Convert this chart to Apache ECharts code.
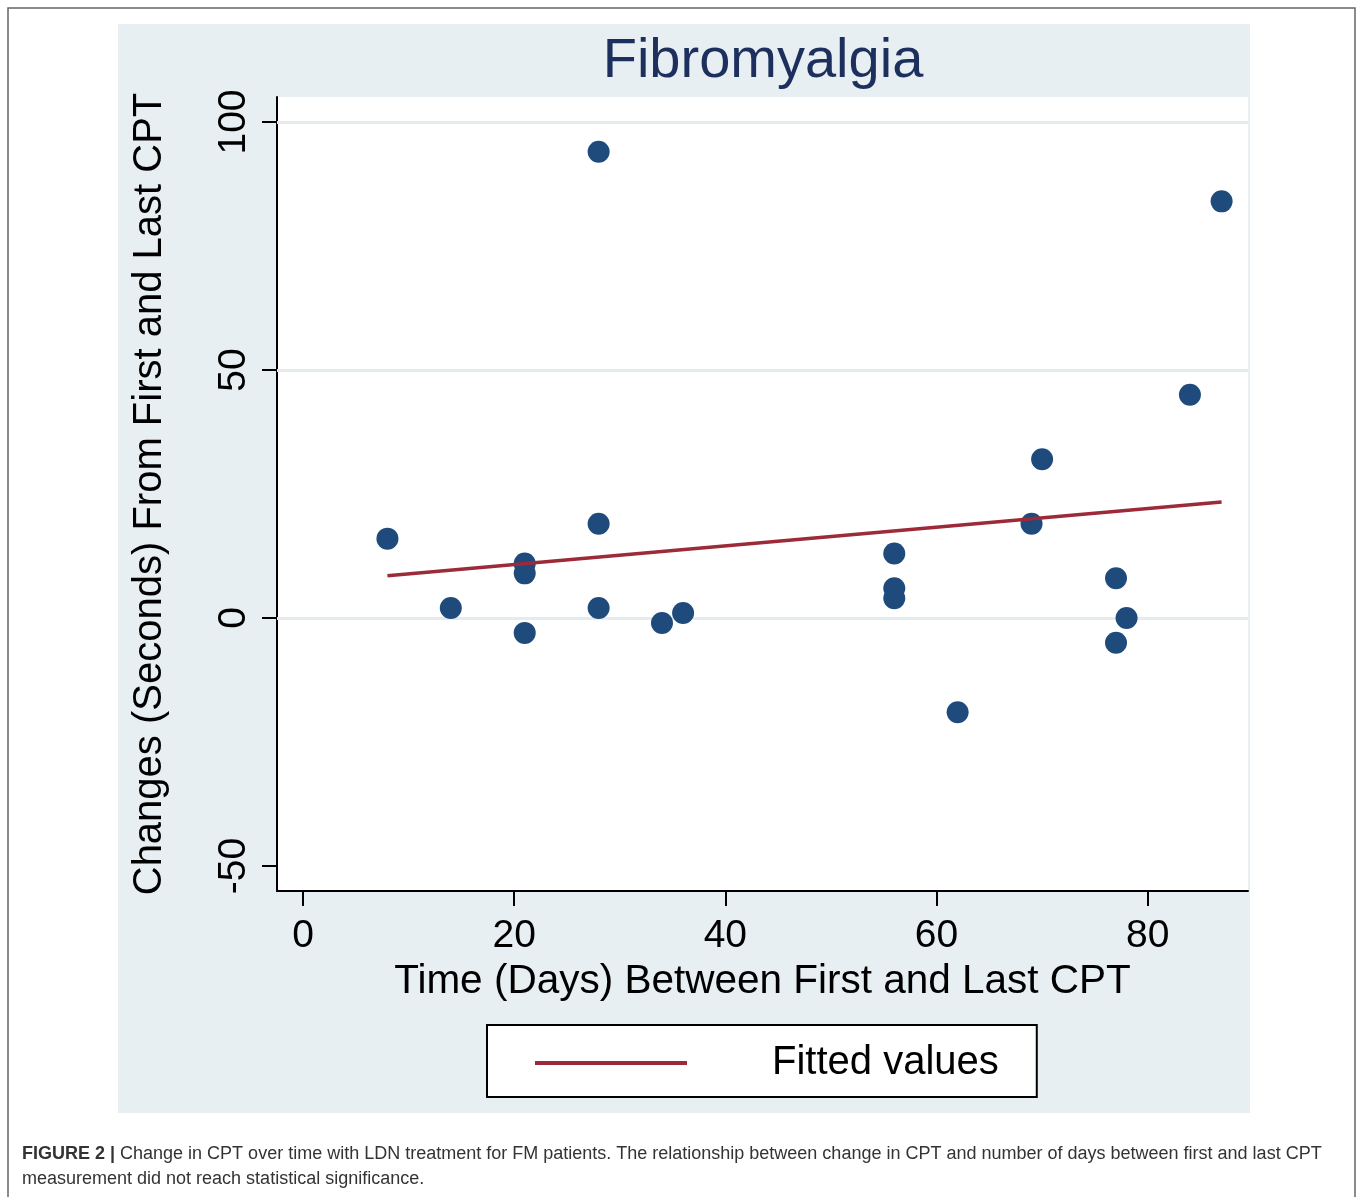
<!DOCTYPE html>
<html>
<head>
<meta charset="UTF-8">
<title>Fibromyalgia</title>
<style>
    html,body{margin:0;padding:0;background:#fff;}
    #chart{width:1358px;height:1197px;}
</style>
</head>
<body>
<div id="chart"></div>
<script src="https://cdn.jsdelivr.net/npm/echarts@6/dist/echarts.min.js"></script>
<script>
    // days between first and last CPT, change in seconds
    const days    = [8, 14, 21, 21, 21, 28, 28, 28, 34, 36, 56, 56, 56, 62, 69, 70, 77, 77, 78, 84, 87];
    const changes = [16, 2, 11, 9, -3, 94, 19, 2, -1, 1, 13, 6, 4, -19, 19, 32, 8, -5, 0, 45, 84];
    // fitted line end points
    const fitX = [8, 87];
    const fitY = [8.5, 23.4];
    const xTicks = [0, 20, 40, 60, 80];
    const yTicks = [-50, 0, 50, 100];
    const gridLines = [0, 50, 100];

    const font = '"Liberation Sans", Arial, sans-serif';
    const points = days.map((d, i) => [d, changes[i]]);
    const fitted = fitX.map((d, i) => [d, fitY[i]]);

    let myChart = echarts.init(document.getElementById('chart'));
    let option = {
        animation: false,
        graphic: [
            {type: 'rect', z: -10, shape: {x: 8, y: 8, width: 1347, height: 1210},
                style: {fill: '#fff', stroke: '#666', lineWidth: 1.5}},
            {type: 'rect', z: -9, shape: {x: 118, y: 24, width: 1132, height: 1089},
                style: {fill: '#e7eff3'}},
            {type: 'text', left: 22, top: 1142, z: 10,
                style: {
                    text: '{b|FIGURE 2 |} Change in CPT over time with LDN treatment for FM patients. The relationship between change in CPT and number of days between first and last CPT\nmeasurement did not reach statistical significance.',
                    fontFamily: font, fontSize: 18, fill: '#333', lineHeight: 25,
                    rich: {b: {fontFamily: font, fontSize: 18, fontWeight: 'bold', fill: '#333', lineHeight: 25}}
                }}
        ],
        title: {
            text: 'Fibromyalgia',
            left: 758,
            textAlign: 'center',
            top: 29,
            textStyle: {fontFamily: font, fontSize: 56, fontWeight: 'normal', color: '#1d2f5c'}
        },
        legend: {
            left: 487,
            top: 1025,
            padding: [18, 38, 14, 48],
            backgroundColor: '#fff',
            borderColor: '#000',
            borderWidth: 2,
            borderRadius: 0,
            itemWidth: 152,
            itemHeight: 4,
            textStyle: {fontFamily: font, fontSize: 40, color: '#000', padding: [0, 0, 0, 80]},
            data: [{name: 'Fitted values', icon: 'rect'}]
        },
        grid: {
            left: 277, top: 97, width: 971, height: 794,
            show: true, backgroundColor: '#fff', borderWidth: 0
        },
        xAxis: {
            type: 'value',
            min: -2.46, max: 89.5,
            name: 'Time (Days) Between First and Last CPT',
            nameLocation: 'middle',
            nameGap: 68,
            nameTextStyle: {fontFamily: font, fontSize: 40.5, color: '#000'},
            axisLine: {show: true, onZero: false, lineStyle: {color: '#000', width: 2}},
            axisTick: {show: true, length: 15, customValues: xTicks, lineStyle: {color: '#000', width: 2}},
            axisLabel: {customValues: xTicks, fontFamily: font, fontSize: 39, color: '#000', margin: 26},
            splitLine: {show: false}
        },
        yAxis: {
            type: 'value',
            min: -55.04, max: 105.04,
            name: 'Changes (Seconds) From First and Last CPT',
            nameLocation: 'middle',
            nameRotate: 90,
            nameGap: 107,
            nameTextStyle: {fontFamily: font, fontSize: 40, color: '#000'},
            axisLine: {show: true, onZero: false, lineStyle: {color: '#000', width: 2}},
            axisTick: {show: true, length: 15, customValues: yTicks, lineStyle: {color: '#000', width: 2}},
            axisLabel: {customValues: yTicks, rotate: 90, fontFamily: font, fontSize: 39, color: '#000', margin: 23},
            splitLine: {show: false}
        },
        series: [
            {
                name: 'points',
                type: 'scatter',
                symbolSize: 22,
                itemStyle: {color: '#1f4b7c', opacity: 1},
                data: points,
                z: 3,
                markLine: {
                    silent: true,
                    z: 1,
                    symbol: 'none',
                    label: {show: false},
                    lineStyle: {color: '#e4ecf0', width: 3, type: 'solid'},
                    data: gridLines.map(v => ({yAxis: v}))
                }
            },
            {
                name: 'Fitted values',
                type: 'line',
                symbol: 'none',
                z: 4,
                lineStyle: {color: '#9c2a38', width: 3.5},
                itemStyle: {color: '#9c2a38'},
                data: fitted
            }
        ]
    };
    myChart.setOption(option);
</script>
</body>
</html>
